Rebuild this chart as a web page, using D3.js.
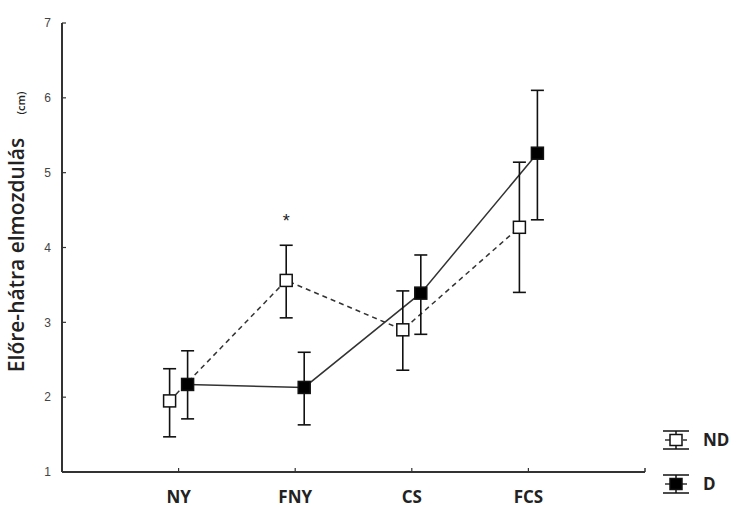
<!DOCTYPE html>
<html>
<head>
<meta charset="utf-8">
<script src="https://cdn.jsdelivr.net/npm/d3@7/dist/d3.min.js"></script>
<style>
  html, body { margin: 0; padding: 0; background: #fff; }
  svg { display: block; }
</style>
</head>
<body>
<svg id="chart" width="736" height="507"></svg>
<script>
// Categories along the x axis
const categories = ["NY", "FNY", "CS", "FCS"];

// ND group: mean with lower / upper error limits
const ndMean = [1.95, 3.56, 2.90, 4.27];
const ndLow  = [1.47, 3.06, 2.36, 3.40];
const ndHigh = [2.38, 4.03, 3.42, 5.14];

// D group: mean with lower / upper error limits
const dMean = [2.17, 2.13, 3.39, 5.26];
const dLow  = [1.71, 1.63, 2.84, 4.37];
const dHigh = [2.62, 2.60, 3.90, 6.10];

const yTicks = [1, 2, 3, 4, 5, 6, 7];
const legendLabels = ["ND", "D"];

const svg = d3.select("#chart");

// x: categories sit at positions 1..4 on a 0..5 line
const x = d3.scaleLinear().domain([0, 5]).range([62, 645]);
const y = d3.scaleLinear().domain([1, 7]).range([472, 23]);
const pos = c => x(categories.indexOf(c) + 1);

const off = 9;     // horizontal shift of each group around a category
const sq = 12;     // marker size
const cap = 13;    // error bar cap width

// Axes
svg.append("line").attr("x1", x(0)).attr("x2", x(0)).attr("y1", y(7)).attr("y2", y(1))
  .attr("stroke", "#333").attr("stroke-width", 2);
svg.append("line").attr("x1", x(0)).attr("x2", x(5)).attr("y1", y(1)).attr("y2", y(1))
  .attr("stroke", "#333").attr("stroke-width", 2);
svg.append("line").attr("x1", x(5)).attr("x2", x(5)).attr("y1", y(1)).attr("y2", y(1) - 4)
  .attr("stroke", "#333").attr("stroke-width", 1.5);

// y ticks and labels
yTicks.forEach(t => {
  svg.append("line").attr("x1", x(0)).attr("x2", x(0) + 4).attr("y1", y(t)).attr("y2", y(t))
    .attr("stroke", "#333").attr("stroke-width", 1.2);
  svg.append("text").attr("x", 51).attr("y", y(t)).attr("dy", "0.36em")
    .attr("text-anchor", "end").attr("font-family", "Liberation Sans, Arial, sans-serif")
    .attr("font-size", 12).attr("fill", "#444").text(t);
});

// x ticks and labels
categories.forEach(c => {
  svg.append("line").attr("x1", pos(c)).attr("x2", pos(c)).attr("y1", y(1)).attr("y2", y(1) - 4)
    .attr("stroke", "#333").attr("stroke-width", 1.2);
  svg.append("text").attr("x", pos(c)).attr("y", 503)
    .attr("text-anchor", "middle").attr("font-family", "Open Sans, sans-serif")
    .attr("font-weight", 700).attr("font-size", 17).attr("fill", "#222").text(c);
});

// y axis title
svg.append("text")
  .attr("transform", "translate(24,255) rotate(-90)")
  .attr("text-anchor", "middle")
  .attr("font-family", "Open Sans, sans-serif").attr("fill", "#222")
  .attr("font-size", 21).attr("font-weight", 600).text("Előre-hátra elmozdulás");
svg.append("text")
  .attr("transform", "translate(25,103) rotate(-90)")
  .attr("text-anchor", "middle")
  .attr("font-family", "Open Sans, sans-serif").attr("fill", "#222")
  .attr("font-size", 11).attr("font-weight", 600).text("(cm)");

// Group definitions built from the arrays above
const groups = [
  { name: "ND", mean: ndMean, low: ndLow, high: ndHigh, dx: -off, fill: "#fff", dash: "5,4" },
  { name: "D",  mean: dMean,  low: dLow,  high: dHigh,  dx: off,  fill: "#000", dash: null }
];

const line = d3.line();

groups.forEach(g => {
  const pts = categories.map((c, i) => [pos(c) + g.dx, y(g.mean[i])]);
  svg.append("path").attr("d", line(pts)).attr("fill", "none")
    .attr("stroke", "#333").attr("stroke-width", 1.5)
    .attr("stroke-dasharray", g.dash);
});

groups.forEach(g => {
  categories.forEach((c, i) => {
    const cx = pos(c) + g.dx;
    const gg = svg.append("g");
    gg.append("line").attr("x1", cx).attr("x2", cx).attr("y1", y(g.high[i])).attr("y2", y(g.low[i]))
      .attr("stroke", "#111").attr("stroke-width", 1.6);
    [g.high[i], g.low[i]].forEach(v => {
      gg.append("line").attr("x1", cx - cap / 2).attr("x2", cx + cap / 2)
        .attr("y1", y(v)).attr("y2", y(v)).attr("stroke", "#111").attr("stroke-width", 1.6);
    });
    gg.append("rect").attr("x", cx - sq / 2).attr("y", y(g.mean[i]) - sq / 2)
      .attr("width", sq).attr("height", sq)
      .attr("fill", g.fill).attr("stroke", "#111").attr("stroke-width", 1.5);
  });
});

// significance marker above FNY (ND)
svg.append("text").attr("x", pos("FNY") - off).attr("y", y(ndHigh[1]) - 18)
  .attr("text-anchor", "middle").attr("font-family", "Liberation Sans, Arial, sans-serif")
  .attr("font-size", 18).attr("fill", "#222").text("*");

// Legend
const legY = [440, 484];
groups.forEach((g, i) => {
  const lx = 676, ly = legY[i];
  const lg = svg.append("g");
  lg.append("line").attr("x1", lx - 13).attr("x2", lx + 13).attr("y1", ly - 9).attr("y2", ly - 9)
    .attr("stroke", "#111").attr("stroke-width", 1.5);
  lg.append("line").attr("x1", lx - 13).attr("x2", lx + 13).attr("y1", ly + 9).attr("y2", ly + 9)
    .attr("stroke", "#111").attr("stroke-width", 1.5);
  lg.append("line").attr("x1", lx - 11).attr("x2", lx + 11).attr("y1", ly).attr("y2", ly)
    .attr("stroke", "#333").attr("stroke-width", 1.5).attr("stroke-dasharray", g.dash);
  lg.append("line").attr("x1", lx).attr("x2", lx).attr("y1", ly - 9).attr("y2", ly + 9)
    .attr("stroke", "#111").attr("stroke-width", 1.5);
  lg.append("rect").attr("x", lx - 6).attr("y", ly - 5.5).attr("width", 12).attr("height", 11)
    .attr("fill", g.fill).attr("stroke", "#111").attr("stroke-width", 1.5);
  lg.append("text").attr("x", 703).attr("y", ly).attr("dy", "0.36em")
    .attr("font-family", "Open Sans, sans-serif").attr("font-weight", 700)
    .attr("font-size", 17).attr("fill", "#222").text(legendLabels[i]);
});
</script>
</body>
</html>
